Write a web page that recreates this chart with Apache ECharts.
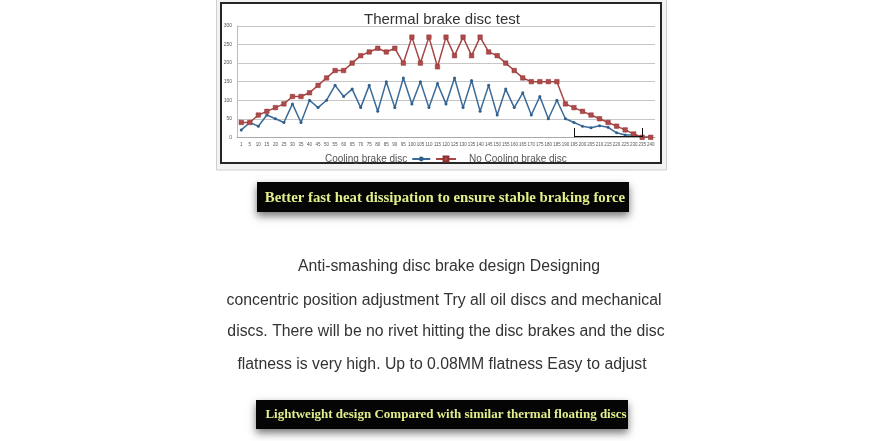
<!DOCTYPE html>
<html>
<head>
<meta charset="utf-8">
<script src="https://cdn.jsdelivr.net/npm/echarts@6/dist/echarts.min.js"></script>
<style>
html,body{margin:0;padding:0;background:#fff;}
#c{width:882px;height:441px;}
</style>
</head>
<body>
<div id="c"></div>
<script>
// ---- data ----
const categories = ['1','5','10','15','20','25','30','35','40','45','50','55','60','65','70','75','80','85','90','95','100','105','110','115','120','125','130','135','140','145','150','155','160','165','170','175','180','185','190','195','200','205','210','215','220','225','230','235','240'];
const coolingValues = [20,40,30,60,50,40,90,40,100,80,100,140,110,130,80,140,70,150,80,160,90,150,80,145,90,160,80,153,70,140,60,130,80,120,60,110,50,100,50,40,30,26,31,27,12,6,6,0,0];
const noCoolingValues = [40,40,60,70,80,90,110,110,120,140,160,180,180,200,220,230,240,230,240,200,270,200,270,190,270,220,270,220,270,230,220,200,180,160,150,150,150,150,90,80,70,60,50,40,30,20,9,0,0];
const yTicks = {min:0, max:300, step:50};
const seriesNames = ['Cooling brake disc','No Cooling brake disc'];
const chartTitle = 'Thermal brake disc test';
const banner1 = 'Better fast heat dissipation to ensure stable braking force';
const banner2 = 'Lightweight design Compared with similar thermal floating discs';
const paragraph = [
  'Anti-smashing disc brake design Designing',
  'concentric position adjustment Try all oil discs and mechanical',
  'discs. There will be no rivet hitting the disc brakes and the disc',
  'flatness is very high. Up to 0.08MM flatness Easy to adjust'
];

const chart = echarts.init(document.getElementById('c'), null, {renderer:'canvas'});
const paraY = [266.5, 300.5, 332, 364.5];
const paraX = [449, 444, 446, 442];
const paraFont = '"Liberation Sans", sans-serif';

const graphics = [
  {type:'rect', z:-10, shape:{x:216.5,y:-2,width:450,height:172}, style:{fill:'#f3f3f3', stroke:'#cfcfcf', lineWidth:1}},
  {type:'rect', z:-9, shape:{x:221,y:3,width:440,height:160}, style:{fill:'#ffffff', stroke:'#262626', lineWidth:2}},
  {type:'rect', z:-5, shape:{x:257,y:182,width:372,height:30}, style:{fill:'#050505', shadowBlur:8, shadowOffsetY:4, shadowColor:'rgba(0,0,0,0.55)'}},
  {type:'text', z:1, style:{x:445, y:198, text:banner1, fill:'#e3ee8a', font:'bold 14.8px "Liberation Serif", serif', textAlign:'center', textVerticalAlign:'middle'}},
  {type:'rect', z:-5, shape:{x:256,y:400,width:372,height:29}, style:{fill:'#050505', shadowBlur:8, shadowOffsetY:4, shadowColor:'rgba(0,0,0,0.55)'}},
  {type:'text', z:1, style:{x:446, y:415, text:banner2, fill:'#e3ee8a', font:'bold 13px "Liberation Serif", serif', textAlign:'center', textVerticalAlign:'middle'}}
];
paragraph.forEach((t,i)=>{
  graphics.push({type:'text', z:1, style:{x:paraX[i], y:paraY[i], text:t, fill:'#333', font:'15.8px ' + paraFont, textAlign:'center', textVerticalAlign:'middle'}});
});

chart.setOption({
  animation:false,
  backgroundColor:'#ffffff',
  title:{text:chartTitle, left:359, top:7, textStyle:{fontFamily:'"Liberation Sans", sans-serif', fontSize:15, fontWeight:'normal', color:'#333'}},
  legend:[
    {data:[seriesNames[0]], left:320, top:149, align:'right', itemWidth:18, itemHeight:6, itemGap:4,
     textStyle:{fontFamily:'"Liberation Sans", sans-serif', fontSize:10, color:'#555'}},
    {data:[seriesNames[1]], left:430, top:149, align:'left', itemWidth:20, itemHeight:6,
     textStyle:{fontFamily:'"Liberation Sans", sans-serif', fontSize:10, color:'#555', padding:[0,0,0,8]}}
  ],
  grid:{left:237, right:227, top:26, bottom:303.7, containLabel:false},
  xAxis:{type:'category', data:categories, boundaryGap:true,
    axisLine:{lineStyle:{color:'#aaa'}}, axisTick:{show:false},
    axisLabel:{interval:0, fontSize:4.5, color:'#555', margin:5, fontFamily:'"Liberation Sans", sans-serif'}},
  yAxis:{type:'value', min:yTicks.min, max:yTicks.max, interval:yTicks.step,
    axisLine:{show:true, lineStyle:{color:'#bbb'}}, axisTick:{show:false},
    axisLabel:{fontSize:5, color:'#555', margin:5, fontFamily:'"Liberation Sans", sans-serif'},
    splitLine:{lineStyle:{color:'#c6c6c6', width:1}}},
  graphic:graphics,
  series:[
    {name:seriesNames[0], type:'line', data:coolingValues, symbol:'circle', symbolSize:3,
     itemStyle:{color:'#2f5f8c'}, lineStyle:{color:'#3a6a98', width:1.5}, z:3,
     markLine:{silent:true, symbol:'none', label:{show:false}, lineStyle:{color:'#111', width:1, type:'solid'},
       data:[
         [{coord:['195',25]},{coord:['195',0]}],
         [{coord:['235',25]},{coord:['235',0]}],
         [{coord:['195',3]},{coord:['235',3]}]
       ]}},
    {name:seriesNames[1], type:'line', data:noCoolingValues, symbol:'rect', symbolSize:4.5,
     itemStyle:{color:'#b04a4a', borderColor:'#8a3030', borderWidth:0.5}, lineStyle:{color:'#a84545', width:1.5}, z:4}
  ]
});
</script>
</body>
</html>
